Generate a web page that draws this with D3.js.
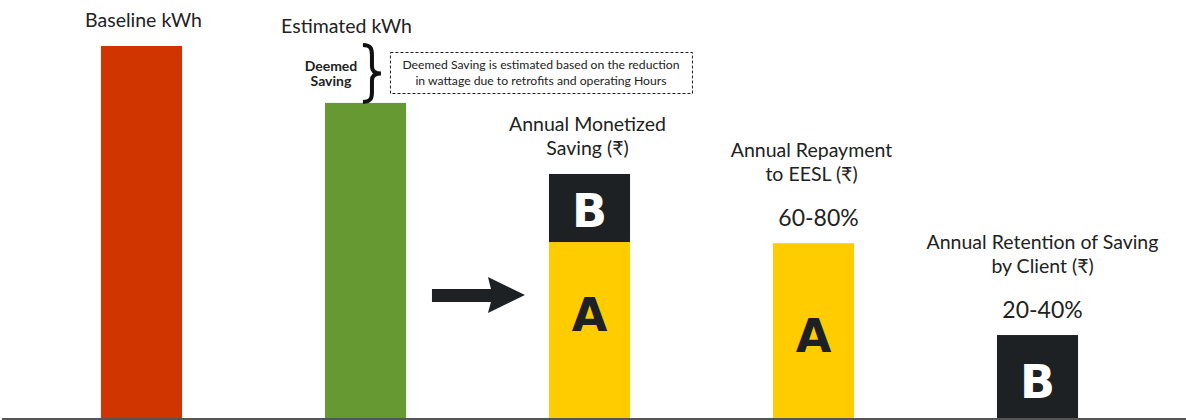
<!DOCTYPE html>
<html>
<head>
<meta charset="utf-8">
<script src="https://cdnjs.cloudflare.com/ajax/libs/d3/7.8.5/d3.min.js"></script>
<style>
  body { margin: 0; background: #fff; }
  svg { display: block; }
  .title { font-family: Lato, "Noto Sans", "DejaVu Sans", sans-serif; font-size: 19.5px; fill: #222; }
  .pct { font-family: Lato, "Noto Sans", sans-serif; font-size: 23px; fill: #222; }
  .letter { font-family: "DejaVu Sans", sans-serif; font-weight: bold; font-size: 46px; }
  .note { font-family: Lato, "Noto Sans", sans-serif; font-size: 12.2px; fill: #222; }
  .deemed { font-family: Lato, "Noto Sans", sans-serif; font-size: 14px; font-weight: bold; fill: #222; }
</style>
</head>
<body>
<svg width="1186" height="420"></svg>
<script>
// chart values (arbitrary units, baseline = 100)
var categories = ["baseline", "estimated", "monetized", "repayment", "retention"];
var titles = [
  ["Baseline kWh"],
  ["Estimated kWh"],
  ["Annual Monetized", "Saving (\u20B9)"],
  ["Annual Repayment", "to EESL  (\u20B9)"],
  ["Annual Retention of Saving", "by Client (\u20B9)"]
];
var baseValues = [100, 84.7, 47.3, 47.0, 22.3];
var topValues = [0, 0, 18.3, 0, 0];
var baseLetters = ["", "", "A", "A", "B"];
var topLetters = ["", "", "B", "", ""];
var pctLabels = ["", "", "", "60-80%", "20-40%"];
var barColors = ["#d03500", "#679933", "#ffcc00", "#ffcc00", "#1d2124"];
var deemedLines = ["Deemed", "Saving"];
var noteLines = ["Deemed Saving is estimated based on the reduction", "in wattage due to retrofits and operating Hours"];

var svg = d3.select("svg"),
    width = +svg.attr("width"),
    height = +svg.attr("height"),
    axisY = 418;

var dark = "#1d2124";

var x = d3.scaleBand()
    .domain(categories)
    .range([29.5, 1149.5])
    .paddingInner(0.638)
    .paddingOuter(0.319);

var y = d3.scaleLinear()
    .domain([0, 100])
    .range([axisY, 46]);

var data = categories.map(function(c, i) {
  return {key: c, i: i, base: baseValues[i], top: topValues[i], color: barColors[i],
          baseLetter: baseLetters[i], topLetter: topLetters[i], pct: pctLabels[i], title: titles[i]};
});

var cx = function(d) { return x(d.key) + x.bandwidth() / 2; };

// base bars
svg.append("g").selectAll("rect")
  .data(data).enter().append("rect")
  .attr("x", function(d) { return x(d.key); })
  .attr("y", function(d) { return y(d.base); })
  .attr("width", x.bandwidth())
  .attr("height", function(d) { return axisY - y(d.base); })
  .attr("fill", function(d) { return d.color; });

// stacked top segment (B)
svg.append("g").selectAll("rect")
  .data(data.filter(function(d) { return d.top > 0; })).enter().append("rect")
  .attr("x", function(d) { return x(d.key); })
  .attr("y", function(d) { return y(d.base + d.top); })
  .attr("width", x.bandwidth())
  .attr("height", function(d) { return y(d.base) - y(d.base + d.top); })
  .attr("fill", dark);

// letters inside bars
svg.append("g").selectAll("text")
  .data(data.filter(function(d) { return d.baseLetter; })).enter().append("text")
  .attr("class", "letter")
  .attr("text-anchor", "middle")
  .attr("x", cx)
  .attr("y", function(d) {
    var mid = (y(d.base) + axisY) / 2;
    return d.top > 0 ? mid + 1 : mid + 21;
  })
  .attr("fill", function(d) { return d.baseLetter === "B" ? "#fff" : dark; })
  .text(function(d) { return d.baseLetter; });

svg.append("g").selectAll("text")
  .data(data.filter(function(d) { return d.topLetter; })).enter().append("text")
  .attr("class", "letter")
  .attr("text-anchor", "middle")
  .attr("x", cx)
  .attr("y", function(d) { return (y(d.base) + y(d.base + d.top)) / 2 + 19; })
  .attr("fill", "#fff")
  .text(function(d) { return d.topLetter; });

// percentage labels
svg.append("g").selectAll("text")
  .data(data.filter(function(d) { return d.pct; })).enter().append("text")
  .attr("class", "pct")
  .attr("text-anchor", "middle")
  .attr("x", function(d) { return cx(d) + 5; })
  .attr("y", function(d) { return y(d.base + d.top) - 17; })
  .text(function(d) { return d.pct; });

// titles
var tg = svg.append("g").selectAll("text")
  .data(data).enter().append("text")
  .attr("class", "title")
  .attr("text-anchor", "middle")
  .attr("x", function(d) {
    if (d.i === 1) return cx(d) - 19;
    if (d.i === 4) return cx(d) + 5;
    return cx(d) + (d.i === 0 ? 2 : -2);
  })
  .attr("y", function(d) {
    var topY = y(d.base + d.top);
    var n = d.title.length;
    if (d.i === 1) return y(baseValues[0]) - 13;
    if (d.pct) return topY - 62 - (n - 1) * 24;
    return topY - 19 - (n - 1) * 24;
  });
tg.each(function(d) {
  var t = d3.select(this), x0 = t.attr("x");
  d.title.forEach(function(line, j) {
    t.append("tspan").attr("x", x0).attr("dy", j === 0 ? 0 : 24).text(line);
  });
});

// deemed saving brace
var est = data[1];
var bTop = y(baseValues[0]) - 1, bBot = y(est.base) - 1, bMid = (bTop + bBot) / 2;
var L = x(est.key) + 38, R = L + 18;
svg.append("path")
  .attr("d", "M" + L + "," + bTop +
    " C" + (L + 8) + "," + bTop + " " + (L + 9) + "," + (bTop + 4) + " " + (L + 9) + "," + (bTop + 10) +
    " L" + (L + 9) + "," + (bMid - 7) +
    " C" + (L + 9) + "," + (bMid - 2) + " " + (L + 12) + "," + bMid + " " + R + "," + bMid +
    " C" + (L + 12) + "," + bMid + " " + (L + 9) + "," + (bMid + 2) + " " + (L + 9) + "," + (bMid + 7) +
    " L" + (L + 9) + "," + (bBot - 10) +
    " C" + (L + 9) + "," + (bBot - 4) + " " + (L + 8) + "," + bBot + " " + L + "," + bBot)
  .attr("fill", "none")
  .attr("stroke", "#111")
  .attr("stroke-width", 4);

svg.append("text")
  .attr("class", "deemed")
  .attr("text-anchor", "middle")
  .attr("x", L - 32)
  .attr("y", bMid - 2)
  .selectAll("tspan").data(deemedLines).enter().append("tspan")
  .attr("x", L - 32)
  .attr("dy", function(d, j) { return j === 0 ? 0 : 15; })
  .text(function(d) { return d; });

// note box
var boxX = R + 9, boxW = 302, boxY = bTop + 7, boxH = 41;
svg.append("rect")
  .attr("x", boxX + 0.5).attr("y", boxY + 0.5)
  .attr("width", boxW).attr("height", boxH)
  .attr("fill", "none")
  .attr("stroke", "#222")
  .attr("stroke-width", 1)
  .attr("stroke-dasharray", "3,2");
svg.append("text")
  .attr("class", "note")
  .attr("text-anchor", "middle")
  .selectAll("tspan").data(noteLines).enter().append("tspan")
  .attr("x", boxX + boxW / 2)
  .attr("y", function(d, j) { return boxY + 17 + j * 16; })
  .text(function(d) { return d; });

// arrow pointing to monetized bar
var ax1 = x(categories[2]) - 24, ax0 = ax1 - 93, ay = 295;
svg.append("path")
  .attr("d", "M" + ax0 + "," + (ay - 6) + " L" + (ax1 - 34) + "," + (ay - 6) +
    " L" + (ax1 - 37) + "," + (ay - 18) + " L" + ax1 + "," + ay +
    " L" + (ax1 - 37) + "," + (ay + 18) + " L" + (ax1 - 34) + "," + (ay + 7) +
    " L" + ax0 + "," + (ay + 7) + "Z")
  .attr("fill", dark);

// baseline axis
svg.append("line")
  .attr("x1", 2).attr("x2", width)
  .attr("y1", axisY + 1).attr("y2", axisY + 1)
  .attr("stroke", "#555")
  .attr("stroke-width", 2);
</script>
</body>
</html>
